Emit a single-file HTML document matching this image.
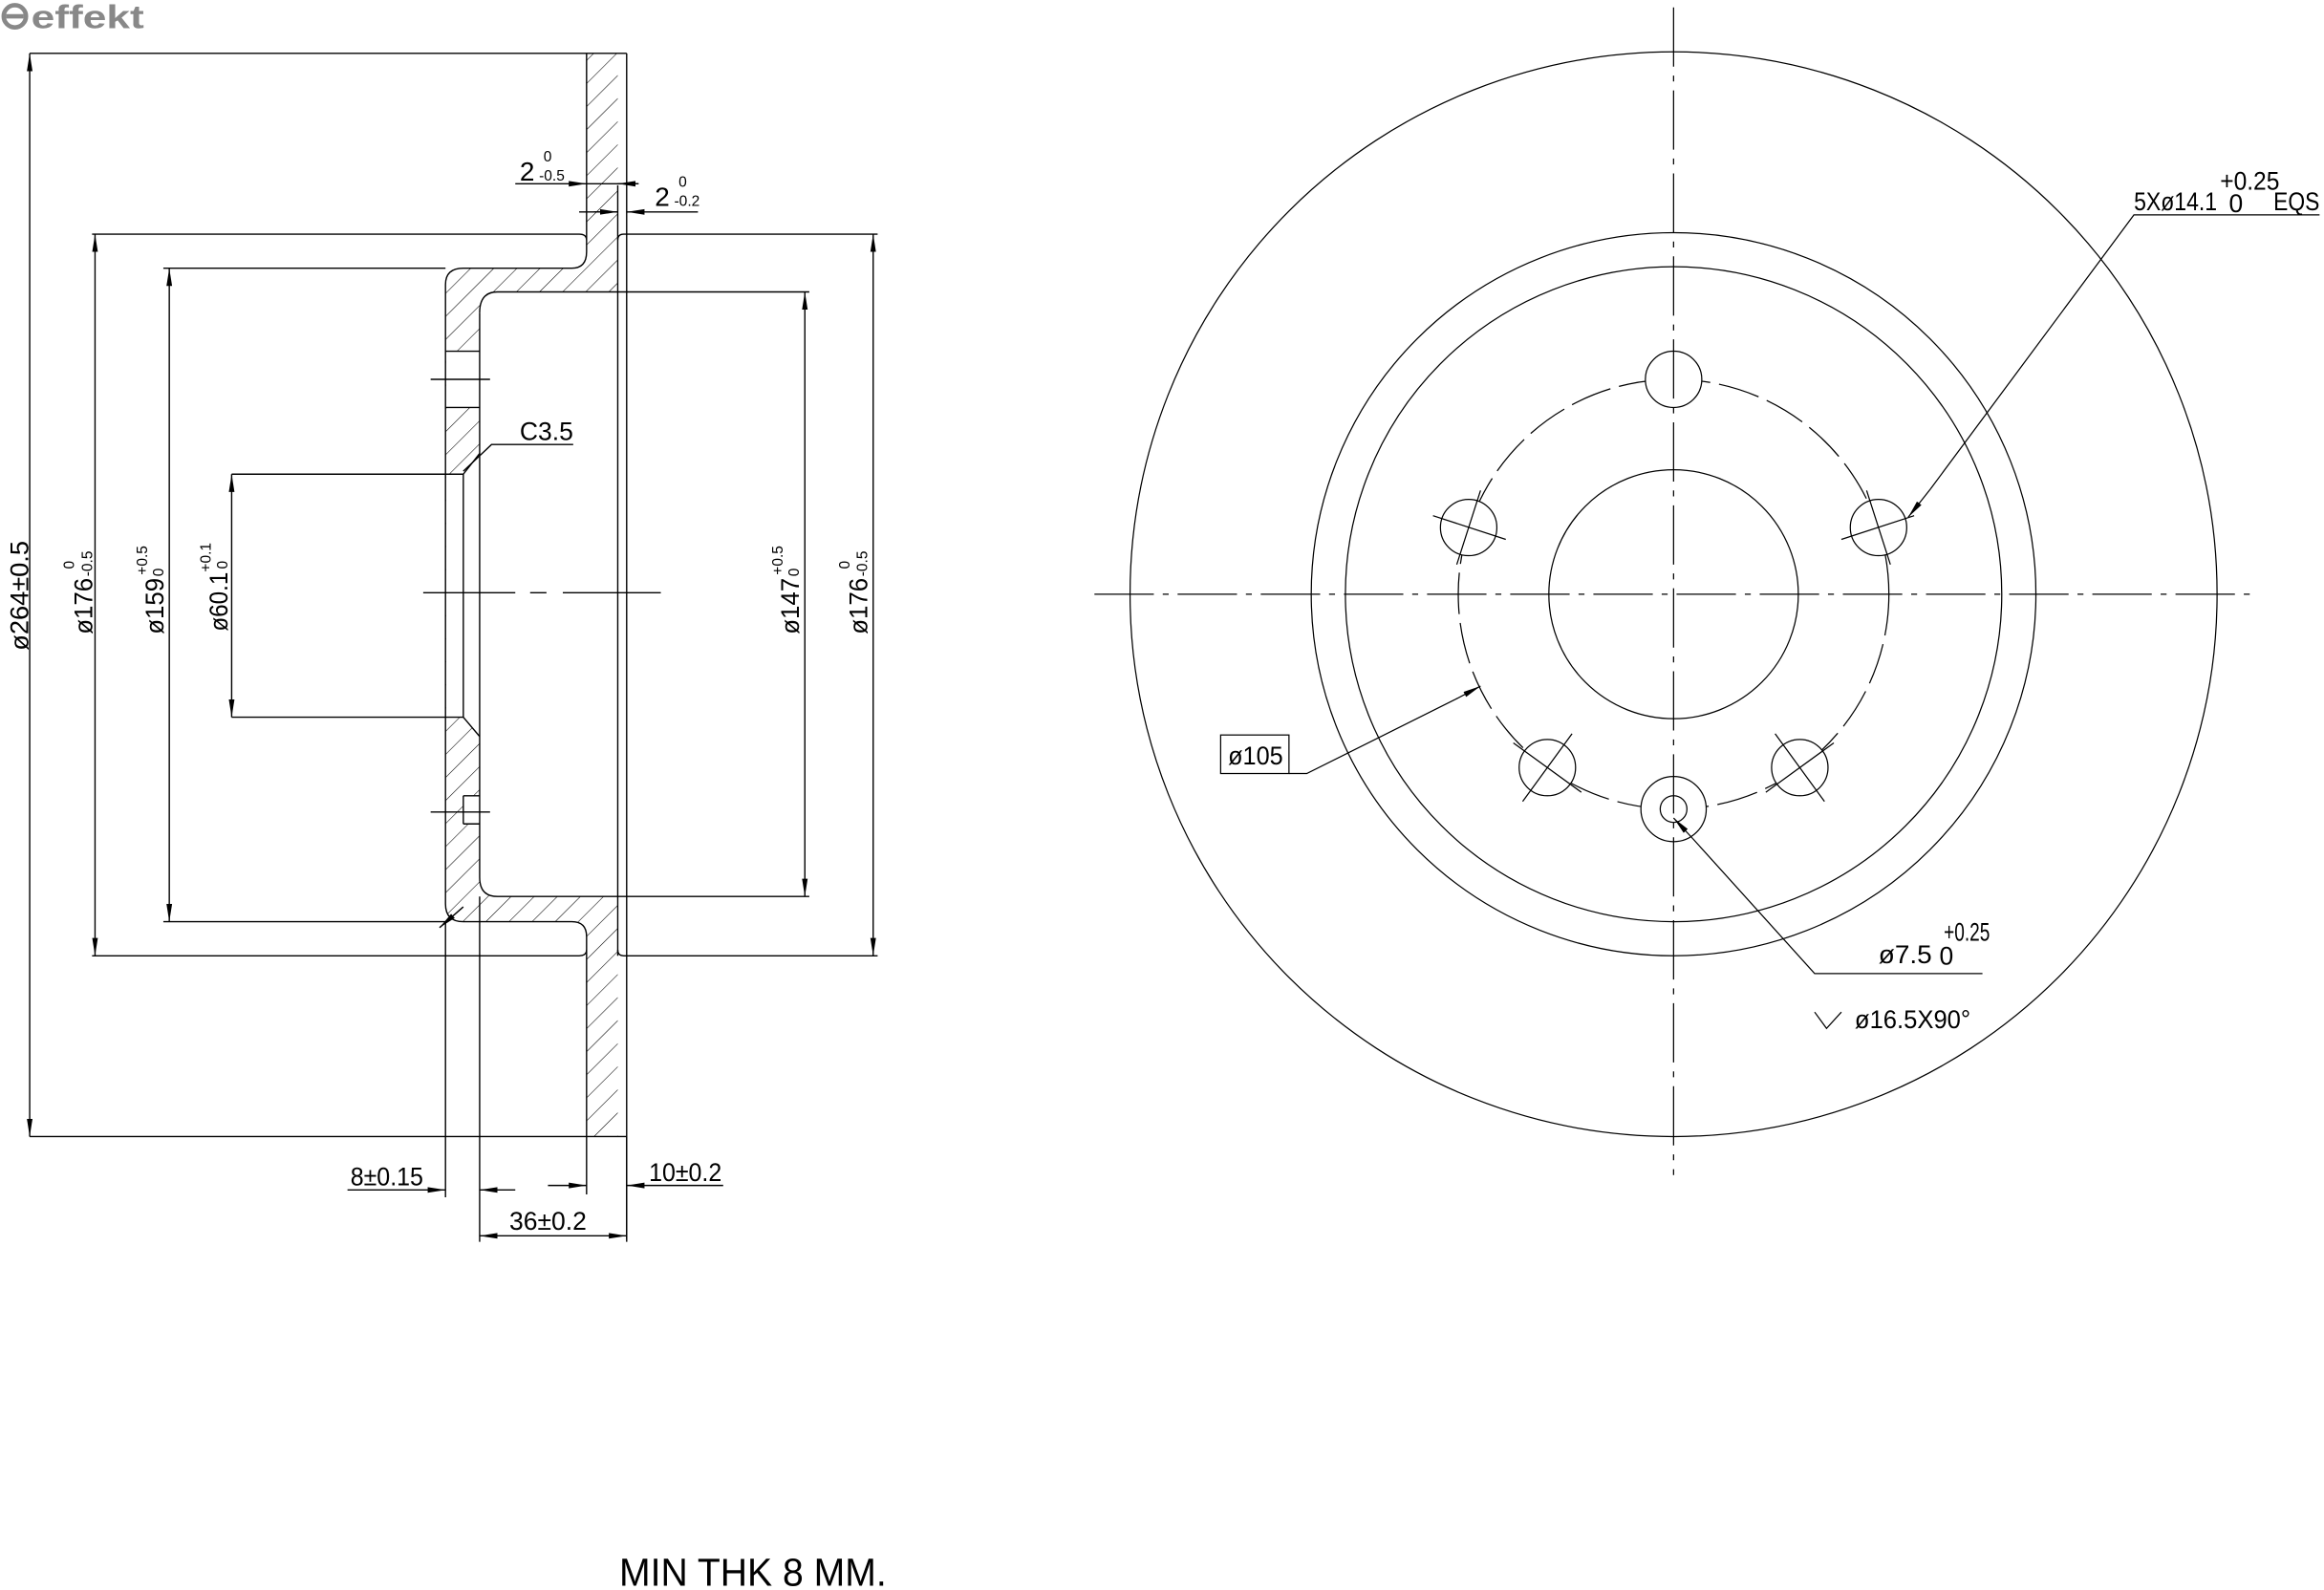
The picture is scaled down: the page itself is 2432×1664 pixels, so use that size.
<!DOCTYPE html>
<html><head><meta charset="utf-8"><style>
html,body{margin:0;padding:0;background:#fff;}
svg{display:block;}
text{font-family:"Liberation Sans Narrow","Liberation Sans",sans-serif;fill:#000;}
</style></head><body>
<svg width="2432" height="1664" viewBox="0 0 1565 1073" preserveAspectRatio="none" xmlns="http://www.w3.org/2000/svg">
<defs>
<marker id="a" viewBox="0 0 12 5" refX="12" refY="2.5" markerWidth="12" markerHeight="5" markerUnits="userSpaceOnUse" orient="auto-start-reverse">
<path d="M0,0.6 L12,2.5 L0,4.4 Z" fill="#000"/>
</marker>
<pattern id="h" width="11" height="11" patternUnits="userSpaceOnUse" patternTransform="rotate(45)">
<line x1="0" y1="0" x2="0" y2="11" stroke="#000" stroke-width="0.7"/>
</pattern>
</defs>
<g fill="none" stroke="#000" stroke-width="0.8">
<circle cx="10" cy="11" r="7.5" stroke="#888" stroke-width="3"/>
<line x1="4" y1="11" x2="16" y2="11" stroke="#888" stroke-width="3"/>
</g>
<text x="21" y="19" font-weight="bold" font-size="22" textLength="76" lengthAdjust="spacingAndGlyphs" style="fill:#888;font-family:'Liberation Sans',sans-serif">effekt</text>

<path fill="url(#h)" fill-rule="evenodd" stroke="none" d="
M395,36 L416,36 L416,767 L395,767 L395,632 Q395,622 385,622 L312,622 Q300,622 300,610 L300,192 Q300,181 312,181 L385,181 Q395,181 395,170 Z
M323,211 Q323,197 335,197 L416,197 L416,605 L335,605 Q323,605 323,592 Z
M300.5,237 L323,237 L323,275 L300.5,275 Z
M300.5,320 L312,320 L323,306 L323,497 L312,484 L300.5,484 Z
M312,537 L323,537 L323,556 L312,556 Z"/>

<g fill="none" stroke="#000" stroke-width="0.9">
<path d="M395,36 L395,170 Q395,181 385,181 L312,181 Q300,181 300,192 L300,610 Q300,622 312,622 L385,622 Q395,622 395,632 L395,767"/>
<path d="M422,36 L422,836"/>
<path d="M416,125 L416,645"/>
<path d="M323,211 Q323,197 335,197 L416,197"/>
<path d="M323,211 L323,592 Q323,605 335,605 L416,605"/>
<path d="M20,36 L422,36 M20,767 L422,767"/>
<path d="M62,158 L390,158 Q395,158 395,162 M416,162 Q416,158 420,158 L591,158"/>
<path d="M62,645 L390,645 Q395,645 395,641 M416,641 Q416,645 420,645 L591,645"/>
<path d="M110,181 L300,181 M110,622 L300,622"/>
<path d="M416,197 L545,197 M416,605 L545,605"/>
<path d="M156,320 L312,320 L312,484 L156,484"/>
<path d="M312,320 L323,306 M312,484 L323,497"/>
<path d="M300,237 L323,237 M300,275 L323,275 M290,256 L330,256"/>
<path d="M312,537 L323,537 M312,556 L323,556 M312,537 L312,556 M290,548 L330,548"/>
<path d="M285,400 L347,400 M357,400 L368,400 M379,400 L445,400"/>
<path d="M312,318 L331,300 L386,300"/>
<path d="M300,622 L300,808 M323,605 L323,838 M395,767 L395,806 M422,767 L422,838"/>
</g>

<g stroke="#000" stroke-width="0.9" fill="none">
<line x1="20" y1="36" x2="20" y2="767" marker-start="url(#a)" marker-end="url(#a)"/>
<line x1="64" y1="158" x2="64" y2="645" marker-start="url(#a)" marker-end="url(#a)"/>
<line x1="114" y1="181" x2="114" y2="622" marker-start="url(#a)" marker-end="url(#a)"/>
<line x1="156" y1="320" x2="156" y2="484" marker-start="url(#a)" marker-end="url(#a)"/>
<line x1="542" y1="197" x2="542" y2="605" marker-start="url(#a)" marker-end="url(#a)"/>
<line x1="588" y1="158" x2="588" y2="645" marker-start="url(#a)" marker-end="url(#a)"/>
<line x1="347" y1="124" x2="395" y2="124" marker-end="url(#a)"/>
<line x1="395" y1="124" x2="430" y2="124"/>
<line x1="430" y1="124" x2="416" y2="124" marker-end="url(#a)"/>
<line x1="390" y1="143" x2="416" y2="143"/>
<line x1="400" y1="143" x2="416" y2="143" marker-end="url(#a)"/>
<line x1="470" y1="143" x2="422" y2="143" marker-end="url(#a)"/>
<line x1="234" y1="803" x2="300" y2="803" marker-end="url(#a)"/>
<line x1="347" y1="803" x2="323" y2="803" marker-end="url(#a)"/>
<line x1="369" y1="800" x2="395" y2="800" marker-end="url(#a)"/>
<line x1="487" y1="800" x2="422" y2="800" marker-end="url(#a)"/>
<line x1="323" y1="834" x2="422" y2="834" marker-start="url(#a)" marker-end="url(#a)"/>
<line x1="312" y1="612" x2="296" y2="626" marker-end="url(#a)"/>
</g>

<g font-size="17">
<text x="350" y="297" textLength="36" lengthAdjust="spacingAndGlyphs">C3.5</text>
<text x="350" y="122" font-size="18">2</text>
<text x="363" y="122" font-size="10">-0.5</text>
<text x="366" y="109" font-size="10">0</text>
<text x="441" y="139" font-size="18">2</text>
<text x="454" y="139" font-size="10">-0.2</text>
<text x="457" y="126" font-size="10">0</text>
<text x="236" y="800" textLength="49" lengthAdjust="spacingAndGlyphs">8±0.15</text>
<text x="437" y="797" textLength="49" lengthAdjust="spacingAndGlyphs">10±0.2</text>
<text x="343" y="830" textLength="52" lengthAdjust="spacingAndGlyphs">36±0.2</text>
<text transform="translate(19,439) rotate(-90)" textLength="74" lengthAdjust="spacingAndGlyphs">ø264±0.5</text>
<text transform="translate(62,428) rotate(-90)" textLength="38" lengthAdjust="spacingAndGlyphs">ø176</text>
<text transform="translate(62,389) rotate(-90)" font-size="10">-0.5</text>
<text transform="translate(50,384) rotate(-90)" font-size="10">0</text>
<text transform="translate(110,428) rotate(-90)" textLength="38" lengthAdjust="spacingAndGlyphs">ø159</text>
<text transform="translate(110,389) rotate(-90)" font-size="10">0</text>
<text transform="translate(99,388) rotate(-90)" font-size="10">+0.5</text>
<text transform="translate(153,426) rotate(-90)" textLength="40" lengthAdjust="spacingAndGlyphs">ø60.1</text>
<text transform="translate(153,384) rotate(-90)" font-size="10">0</text>
<text transform="translate(142,386) rotate(-90)" font-size="10">+0.1</text>
<text transform="translate(538,428) rotate(-90)" textLength="38" lengthAdjust="spacingAndGlyphs">ø147</text>
<text transform="translate(538,389) rotate(-90)" font-size="10">0</text>
<text transform="translate(527,388) rotate(-90)" font-size="10">+0.5</text>
<text transform="translate(584,428) rotate(-90)" textLength="38" lengthAdjust="spacingAndGlyphs">ø176</text>
<text transform="translate(584,389) rotate(-90)" font-size="10">-0.5</text>
<text transform="translate(572,384) rotate(-90)" font-size="10">0</text>
</g>

<g fill="none" stroke="#000" stroke-width="0.8">
<circle cx="1127" cy="401" r="366"/>
<circle cx="1127" cy="401" r="244"/>
<circle cx="1127" cy="401" r="221"/>
<circle cx="1127" cy="401" r="84"/>
<circle cx="1127" cy="401" r="145" stroke-dasharray="28,6"/>
<circle cx="1127" cy="256" r="19" fill="#fff"/>
<circle cx="1265" cy="356" r="19" fill="#fff"/>
<circle cx="1212" cy="518" r="19" fill="#fff"/>
<circle cx="1042" cy="518" r="19" fill="#fff"/>
<circle cx="989" cy="356" r="19" fill="#fff"/>
<circle cx="1127" cy="546" r="22" fill="#fff"/>
<circle cx="1127" cy="546" r="9"/>
<path d="M737,401 L1515,401" stroke-dasharray="40,6,4,6"/>
<path d="M1127,5 L1127,793" stroke-dasharray="40,6,4,6"/>
<path d="M965,348 L1014,364 M997,331 L981,381"/>
<path d="M1240,364 L1289,348 M1257,331 L1273,381"/>
<path d="M1022,498 L1062,538 M1062,498 L1022,538" transform="rotate(-9 1042 518)"/>
<path d="M1192,498 L1232,538 M1232,498 L1192,538" transform="rotate(9 1212 518)"/>
<path d="M1562,145 L1437,145 L1300,330"/>
<line x1="1300" y1="330" x2="1285" y2="349" marker-end="url(#a)"/>
<rect x="822" y="496" width="46" height="26"/>
<path d="M868,522 L880,522 L980,472"/>
<line x1="980" y1="472" x2="997" y2="463" marker-end="url(#a)"/>
<path d="M1335,657 L1222,657 L1140,566"/>
<line x1="1140" y1="566" x2="1127" y2="552" marker-end="url(#a)"/>
<path d="M1222,683 L1230,694 L1240,683"/>
</g>
<g font-size="17">
<text x="1437" y="142" textLength="56" lengthAdjust="spacingAndGlyphs">5Xø14.1</text>
<text x="1495" y="128" textLength="40" lengthAdjust="spacingAndGlyphs">+0.25</text>
<text x="1501" y="143">0</text>
<text x="1531" y="142" textLength="31" lengthAdjust="spacingAndGlyphs">EQS</text>
<text x="827" y="516" textLength="37" lengthAdjust="spacingAndGlyphs">ø105</text>
<text x="1265" y="650" textLength="36" lengthAdjust="spacingAndGlyphs">ø7.5</text>
<text x="1309" y="635" textLength="31" lengthAdjust="spacingAndGlyphs">+0.25</text>
<text x="1306" y="651">0</text>
<text x="1249" y="694" textLength="78" lengthAdjust="spacingAndGlyphs">ø16.5X90°</text>
<text x="417" y="1070" font-size="26" textLength="180" lengthAdjust="spacingAndGlyphs">MIN THK 8 MM.</text>
</g>
</svg>
</body></html>
